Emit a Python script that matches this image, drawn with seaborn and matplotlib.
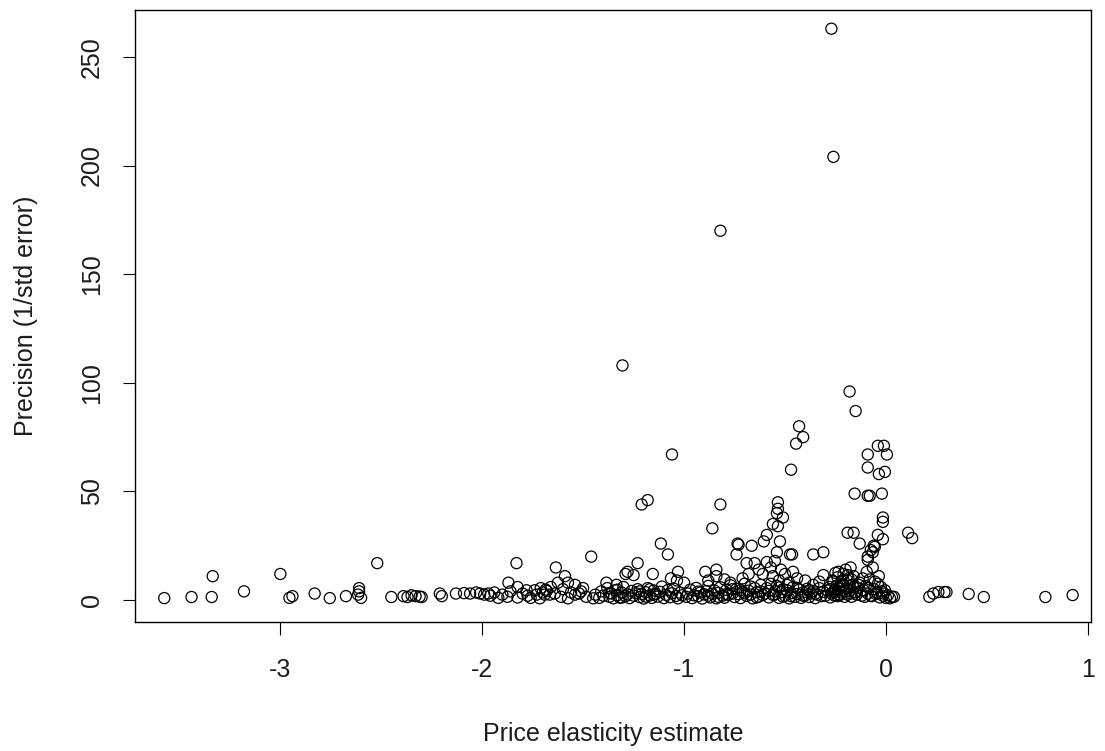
import numpy as np
import pandas as pd
import matplotlib
matplotlib.use("Agg")
import matplotlib.pyplot as plt
import seaborn as sns

# ---- data ----
# far left, sparse
x_left = [-3.575, -3.44, -3.34, -3.335, -3.18, -3.0, -2.955, -2.94, -2.83, -2.755,
          -2.675, -2.61, -2.61, -2.615, -2.60, -2.52, -2.45, -2.39, -2.37, -2.35,
          -2.33, -2.31, -2.30, -2.21, -2.20, -2.13, -2.09, -2.06, -2.03, -2.01,
          -1.99, -1.97]
y_left = [0.9, 1.4, 1.4, 11, 4, 12, 1.0, 1.8, 3.0, 0.9,
          1.8, 5.5, 4.0, 2.5, 1.0, 17, 1.4, 1.8, 1.4, 2.2,
          1.8, 1.6, 1.4, 3.0, 1.8, 3.0, 3.2, 3.0, 3.5, 3.0,
          2.5, 3.0]

# -1.95 .. -1.45
x_b = [-1.96, -1.94, -1.92, -1.90, -1.875, -1.87, -1.86, -1.83, -1.825, -1.825,
       -1.80, -1.78, -1.775, -1.76, -1.74, -1.73, -1.715, -1.71, -1.70, -1.69,
       -1.685, -1.68, -1.665, -1.66, -1.64, -1.635, -1.625, -1.61, -1.60, -1.59,
       -1.575, -1.575, -1.56, -1.54, -1.54, -1.52, -1.51, -1.50, -1.485, -1.46,
       -1.45]
y_b = [2.0, 3.5, 1.0, 2.5, 1.5, 8, 4.0, 17, 6, 1.2,
       3.0, 4.5, 2.0, 1.0, 4.5, 2.5, 0.8, 5.5, 3.5, 2.5,
       4.8, 4.2, 2.5, 6.0, 3.0, 15, 8, 1.5, 5.0, 11,
       8, 0.8, 3.5, 7, 2.5, 3.0, 4.0, 5.5, 1.5, 20,
       0.8]

# -1.45 .. -1.0
x_c = [-1.385, -1.335, -1.305, -1.28, -1.25, -1.23, -1.21, -1.18, -1.155, -1.115,
       -1.08, -1.065, -1.03, -1.035, -1.06, -1.0, -1.29,
       -1.44, -1.42, -1.41, -1.40, -1.38, -1.37, -1.36, -1.35, -1.34, -1.33,
       -1.32, -1.31, -1.30, -1.29, -1.28, -1.27, -1.26, -1.25, -1.24, -1.23,
       -1.22, -1.21, -1.20, -1.19, -1.18, -1.17, -1.16, -1.15, -1.14, -1.13,
       -1.12, -1.11, -1.10, -1.09, -1.08, -1.07, -1.06, -1.05, -1.04, -1.03,
       -1.02, -1.01,
       -1.37, -1.33, -1.31, -1.22, -1.19, -1.17, -1.15]
y_c = [8, 7, 108, 13, 11.5, 17, 44, 46, 12, 26,
       21, 10, 13, 9, 67, 8, 12,
       2.5, 1.0, 4.0, 2.0, 5.5, 1.5, 3.0, 0.8, 4.5, 2.2,
       1.2, 3.5, 6.0, 1.8, 2.6, 0.9, 4.2, 2.0, 3.2, 5.0,
       1.4, 2.8, 0.7, 3.6, 5.5, 2.1, 1.0, 4.4, 2.9, 1.6,
       3.8, 6.2, 0.9, 2.4, 4.6, 1.3, 3.1, 5.2, 1.9, 0.8,
       3.4, 2.2,
       3.2, 4.8, 1.1, 4.0, 1.6, 5.0, 2.6]

# -1.0 .. -0.6
x_d = [-0.895, -0.84, -0.84, -0.82, -0.82, -0.86, -0.735, -0.73, -0.74, -0.665,
       -0.69, -0.65, -0.88, -0.80, -0.77, -0.71, -0.68, -0.63, -0.61,
       -0.99, -0.98, -0.97, -0.96, -0.95, -0.94, -0.93, -0.92, -0.91, -0.90,
       -0.89, -0.88, -0.87, -0.86, -0.85, -0.84, -0.83, -0.82, -0.81, -0.80,
       -0.79, -0.78, -0.77, -0.76, -0.75, -0.74, -0.73, -0.72, -0.71, -0.70,
       -0.69, -0.68, -0.67, -0.66, -0.65, -0.64, -0.63, -0.62, -0.61,
       -0.93, -0.88, -0.83, -0.79, -0.76, -0.72, -0.70, -0.67, -0.64, -0.62]
y_d = [13, 14, 11, 170, 44, 33, 26, 25.5, 21, 25,
       17, 17, 9, 9.5, 8, 10, 12, 14, 12,
       1.5, 3.0, 4.8, 0.9, 2.2, 5.6, 1.8, 3.5, 0.7, 2.6,
       4.1, 6.5, 1.2, 2.9, 4.4, 0.8, 3.3, 5.9, 2.0, 1.1,
       4.7, 2.4, 6.8, 3.0, 1.4, 5.2, 2.7, 0.9, 3.8, 7.5,
       1.9, 4.3, 2.5, 0.8, 5.5, 3.6, 1.6, 4.0, 2.3,
       3.9, 2.0, 1.5, 2.8, 5.0, 4.6, 3.1, 6.2, 1.2, 7.0]

# -0.6 .. -0.3
x_e = [-0.535, -0.535, -0.54, -0.51, -0.56, -0.535, -0.59, -0.605, -0.525, -0.43,
       -0.41, -0.445, -0.47, -0.54, -0.475, -0.465, -0.36, -0.31, -0.46, -0.31,
       -0.59, -0.57, -0.55, -0.52, -0.56, -0.53, -0.50, -0.48, -0.44, -0.40,
       -0.36, -0.33,
       -0.60, -0.59, -0.58, -0.57, -0.56, -0.55, -0.54, -0.53, -0.52, -0.51,
       -0.50, -0.49, -0.48, -0.47, -0.46, -0.45, -0.44, -0.43, -0.42, -0.41,
       -0.40, -0.39, -0.38, -0.37, -0.36, -0.35, -0.34, -0.33, -0.32, -0.31,
       -0.58, -0.55, -0.53, -0.51, -0.49, -0.47, -0.44, -0.41, -0.38, -0.35]
y_e = [45, 42, 40, 38, 35, 34, 30, 27, 27, 80,
       75, 72, 60, 22, 21, 21, 21, 22, 13, 11.5,
       17.5, 15, 18, 14, 11, 9, 12, 8, 10, 9,
       7, 8.5,
       3.0, 5.5, 1.2, 7.5, 2.4, 4.0, 6.5, 1.0, 3.6, 5.0,
       2.0, 4.5, 0.8, 3.2, 6.0, 1.5, 2.8, 4.8, 1.0, 3.5,
       2.2, 5.2, 1.4, 3.0, 4.2, 0.9, 2.5, 5.5, 1.8, 3.8,
       4.2, 2.5, 5.8, 1.6, 7.0, 1.8, 5.6, 2.0, 4.4, 3.0]

# -0.3 .. 0.05
x_f = [-0.27, -0.26, -0.18, -0.15, -0.04, -0.01, -0.09, 0.005, -0.09, -0.035,
       -0.005, -0.155, -0.09, -0.08, -0.02, -0.015, -0.015, -0.19, -0.16, -0.13,
       -0.04, -0.015, -0.06, -0.065, -0.09, -0.075, -0.055, -0.09, -0.175, 0.11,
       0.13,
       -0.30, -0.29, -0.28, -0.27, -0.26, -0.25, -0.24, -0.23, -0.22, -0.21,
       -0.20, -0.19, -0.18, -0.17, -0.16, -0.15, -0.14, -0.13, -0.12, -0.11,
       -0.10, -0.09, -0.08, -0.07, -0.06, -0.05, -0.04, -0.03, -0.02, -0.01,
       0.00, 0.01, 0.02, 0.03,
       -0.275, -0.265, -0.255, -0.245, -0.235, -0.225, -0.215, -0.205, -0.195, -0.185,
       -0.175, -0.165, -0.275, -0.26, -0.25, -0.24, -0.23, -0.22, -0.21, -0.20,
       -0.19, -0.18, -0.17, -0.16, -0.25, -0.23, -0.21, -0.19,
       -0.145, -0.135, -0.125, -0.115, -0.105, -0.095, -0.085, -0.075, -0.065, -0.055,
       -0.045, -0.035, -0.025, -0.015, -0.005]
y_f = [263, 204, 96, 87, 71, 71, 67, 67, 61, 58,
       59, 49, 48, 48, 49, 38, 36, 31, 31, 26,
       30, 28, 25, 22, 20, 23, 24.5, 18.5, 15, 31,
       28.5,
       2.0, 4.5, 6.0, 3.0, 8.5, 5.0, 10.5, 2.5, 7.0, 12.0,
       4.0, 9.0, 6.5, 1.5, 11.0, 3.5, 5.5, 8.0, 2.0, 4.5,
       6.5, 3.0, 9.5, 1.8, 5.0, 2.8, 7.5, 1.2, 4.0, 3.0,
       1.0, 2.2, 0.8, 1.5,
       5.0, 9.0, 2.0, 6.5, 13.0, 3.5, 7.5, 1.5, 5.5, 10.0,
       3.0, 7.0, 1.2, 3.8, 12.5, 1.8, 5.2, 8.8, 4.2, 14.0,
       2.5, 4.0, 9.5, 6.0, 4.0, 2.2, 6.8, 11.5,
       2.5, 7.0, 4.0, 10.0, 1.5, 13.0, 5.5, 2.0, 15.0, 8.5,
       3.5, 11.0, 6.0, 2.0, 4.5]

# right, sparse
x_right = [0.04, 0.215, 0.235, 0.26, 0.29, 0.30, 0.41, 0.485, 0.79, 0.925]
y_right = [1.5, 1.5, 3.0, 3.7, 3.7, 3.7, 2.8, 1.4, 1.4, 2.3]

x_ticks = [-3, -2, -1, 0, 1]
x_tick_labels = ["-3", "-2", "-1", "0", "1"]
y_ticks = [0, 50, 100, 150, 200, 250]
y_tick_labels = ["0", "50", "100", "150", "200", "250"]

elasticity = x_left + x_b + x_c + x_d + x_e + x_f + x_right
precision = y_left + y_b + y_c + y_d + y_e + y_f + y_right
df = pd.DataFrame({"elasticity": elasticity, "precision": precision})

# ---- plot ----
sns.set_style("ticks")
plt.rcParams['font.family'] = ['Liberation Sans', 'DejaVu Sans']

W, H = 1105, 751
FS = 18
TXT = "#1c1c1c"
fig = plt.figure(figsize=(W / 100, H / 100), dpi=100)
ax = fig.add_axes([135 / W, 1 - 622 / H, (1091 - 135) / W, (622 - 10) / H])

sns.scatterplot(data=df, x="elasticity", y="precision", ax=ax, marker="o", s=64,
                facecolor="none", edgecolor="black", linewidth=0.9, legend=False)

ax.set_xlim(-3.72, 1.016)
ax.set_ylim(-10.1, 271.6)
ax.set_xticks(x_ticks)
ax.set_xticklabels(x_tick_labels)
ax.set_yticks(y_ticks)
ax.set_yticklabels(y_tick_labels, rotation=90, va="center")
ax.tick_params(axis="both", direction="out", length=9, width=0.8, color="black",
               labelsize=FS, labelcolor=TXT)
ax.tick_params(axis="x", pad=17)
ax.tick_params(axis="y", pad=13.5)
for sp in ax.spines.values():
    sp.set_visible(True)
    sp.set_color("black")
    sp.set_linewidth(1.0)

ax.set_xlabel("Price elasticity estimate", fontsize=FS, color=TXT, labelpad=29)
ax.set_ylabel("Precision (1/std error)", fontsize=FS, color=TXT, labelpad=30)

fig.savefig("out.png", dpi=100, facecolor="white")
